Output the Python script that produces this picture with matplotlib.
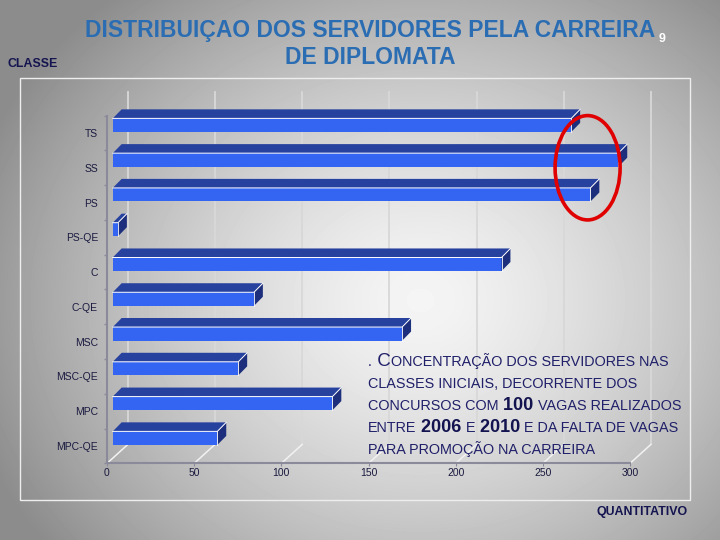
import numpy as np
import matplotlib
matplotlib.use('Agg')
import matplotlib.pyplot as plt
from matplotlib.patches import Ellipse, Rectangle

plt.rcParams['font.family'] = ['Liberation Sans', 'DejaVu Sans']

# Data
categories = ['TS', 'SS', 'PS', 'PS-QE', 'C', 'C-QE', 'MSC', 'MSC-QE', 'MPC', 'MPC-QE']
quantitativo = [263, 290, 274, 3, 223, 81, 166, 72, 126, 60]
x_ticks = [0, 50, 100, 150, 200, 250, 300]

title_l1 = 'DISTRIBUIÇAO DOS SERVIDORES PELA CARREIRA'
title_l2 = 'DE DIPLOMATA'
page_no = '9'
y_title = 'CLASSE'
x_title = 'QUANTITATIVO'

# note text, pieces: (text, style)  s = small caps, C = big letter, N = big number
note_lines = [
    [('.', 's'), (' C', 'C'), ('ONCENTRAÇÃO DOS SERVIDORES NAS', 's')],
    [('CLASSES INICIAIS, DECORRENTE DOS', 's')],
    [('CONCURSOS COM', 's'), (' 100', 'N'), (' VAGAS REALIZADOS', 's')],
    [('ENTRE', 's'), (' 2006', 'N'), (' E', 's'), (' 2010', 'N'), (' E DA FALTA DE VAGAS', 's')],
    [('PARA PROMOÇÃO NA CARREIRA', 's')],
]

W, H = 720, 540
fig = plt.figure(figsize=(7.2, 5.4), dpi=100)

# grey radial background
bg = fig.add_axes([0, 0, 1, 1], zorder=-10)
yy, xx = np.mgrid[0:H, 0:W]
r = np.sqrt(((xx - 420) / 470.0) ** 2 + ((yy - 300) / 400.0) ** 2)
r = np.clip(r, 0, 1)
shade = 0.96 - (0.96 - 0.55) * r ** 1.4
bg.imshow(shade, cmap='gray', vmin=0, vmax=1, extent=[0, W, H, 0],
          aspect='auto', interpolation='bilinear')
bg.axis('off')

ax = fig.add_axes([20 / W, 40 / H, 670 / W, 422 / H])
ax.patch.set_alpha(0)
ax.set_xlim(-49.9, 334.4)
ax.set_ylim(-1.553, 10.581)

n = len(categories)
ypos = np.arange(n)[::-1]          # TS on top
DX, DY = 12.0, 0.546               # depth of the 3d box
TOP = 10.18

# back wall gridlines and floor lines
for v in x_ticks:
    ax.plot([v + DX, v + DX], [-0.5 + DY, TOP], color='#d8d8d8', lw=1.3, zorder=1)
    ax.plot([v, v + DX], [-0.5, -0.5 + DY], color='#f2f2f2', lw=1.1, zorder=1)

# 3d bars
a = 3.3                      # bar front offset
h = 0.39                     # bar face height
bdx, bdy = 5.1, 0.26         # bar depth
for c, v in zip(ypos, quantitativo):
    y0 = c + 0.03
    y1 = y0 + h
    x1 = a + v
    ax.fill([a, x1, x1, a], [y0, y0, y1, y1], color='#3464f2', lw=0, zorder=4)
    ax.fill([a, x1, x1 + bdx, a + bdx], [y1, y1, y1 + bdy, y1 + bdy],
            color='#27419f', lw=0, zorder=4)
    ax.fill([x1, x1 + bdx, x1 + bdx, x1], [y0, y0 + bdy, y1 + bdy, y1],
            color='#1d2f7c', lw=0, zorder=4)
    ax.plot([a, x1, x1 + bdx], [y1, y1, y1 + bdy], color='white', lw=0.7, zorder=5)
    ax.plot([x1, x1], [y0, y1], color='white', lw=0.6, zorder=5)

# red highlight around the top three bars
ell = Ellipse((np.mean(quantitativo[:3]), ypos[1]), 37.3, 3.0, fill=False,
              ec='#e00000', lw=2.6, zorder=6)
ax.add_patch(ell)

# axes
for s in ['top', 'right']:
    ax.spines[s].set_visible(False)
ax.spines['left'].set_position(('data', 0))
ax.spines['left'].set_bounds(-0.5, n - 0.5)
ax.spines['bottom'].set_position(('data', -0.5))
ax.spines['bottom'].set_bounds(0, 300)
for s in ['left', 'bottom']:
    ax.spines[s].set_color('#8a8a9a')
    ax.spines[s].set_linewidth(1.5)

ax.set_yticks(ypos)
ax.set_yticklabels(categories)
ax.set_yticks(np.arange(-0.5, n, 1), minor=True)
ax.tick_params(axis='y', which='major', length=0, pad=6.5, labelsize=7.5,
               labelcolor='#1a1a40')
ax.tick_params(axis='y', which='minor', length=2.5, direction='out',
               color='#8a8a9a', width=1)
ax.set_xticks(x_ticks)
ax.tick_params(axis='x', length=2, direction='out', color='#8a8a9a', pad=1.5,
               labelsize=7.5, labelcolor='#1a1a40')

ax.add_patch(Rectangle((0, 0), 1, 1, transform=ax.transAxes, fill=False,
                       ec='#eeeeee', lw=1, clip_on=False))

# titles
fig.text(370.5 / W, 1 - 37.5 / H, title_l1, ha='center', va='baseline',
         fontsize=16.5, fontweight='bold', color='#2b6db3')
fig.text(370.5 / W, 1 - 64.5 / H, title_l2, ha='center', va='baseline',
         fontsize=16.5, fontweight='bold', color='#2b6db3')
fig.text(659 / W, 1 - 42 / H, page_no, ha='left', va='baseline',
         fontsize=9, fontweight='bold', color='white')
fig.text(7 / W, 1 - 67.3 / H, y_title, ha='left', va='baseline',
         fontsize=8.9, fontweight='bold', color='#141450')
fig.text(688 / W, 1 - 515.5 / H, x_title, ha='right', va='baseline',
         fontsize=8.9, fontweight='bold', color='#141450')

# note text, piece by piece
styles = {
    's': dict(fontsize=10.4, color='#20206a'),
    'C': dict(fontsize=13.5, color='#20206a'),
    'N': dict(fontsize=13, fontweight='bold', color='#13134f'),
}
renderer = fig.canvas.get_renderer()
baselines = [366, 388, 410, 432, 454]
for line, yb in zip(note_lines, baselines):
    x = 368
    for txt, st in line:
        t = fig.text(x / W, 1 - yb / H, txt, ha='left', va='baseline', **styles[st])
        x += t.get_window_extent(renderer).width

fig.savefig('out.png', dpi=100)
plt.close(fig)
